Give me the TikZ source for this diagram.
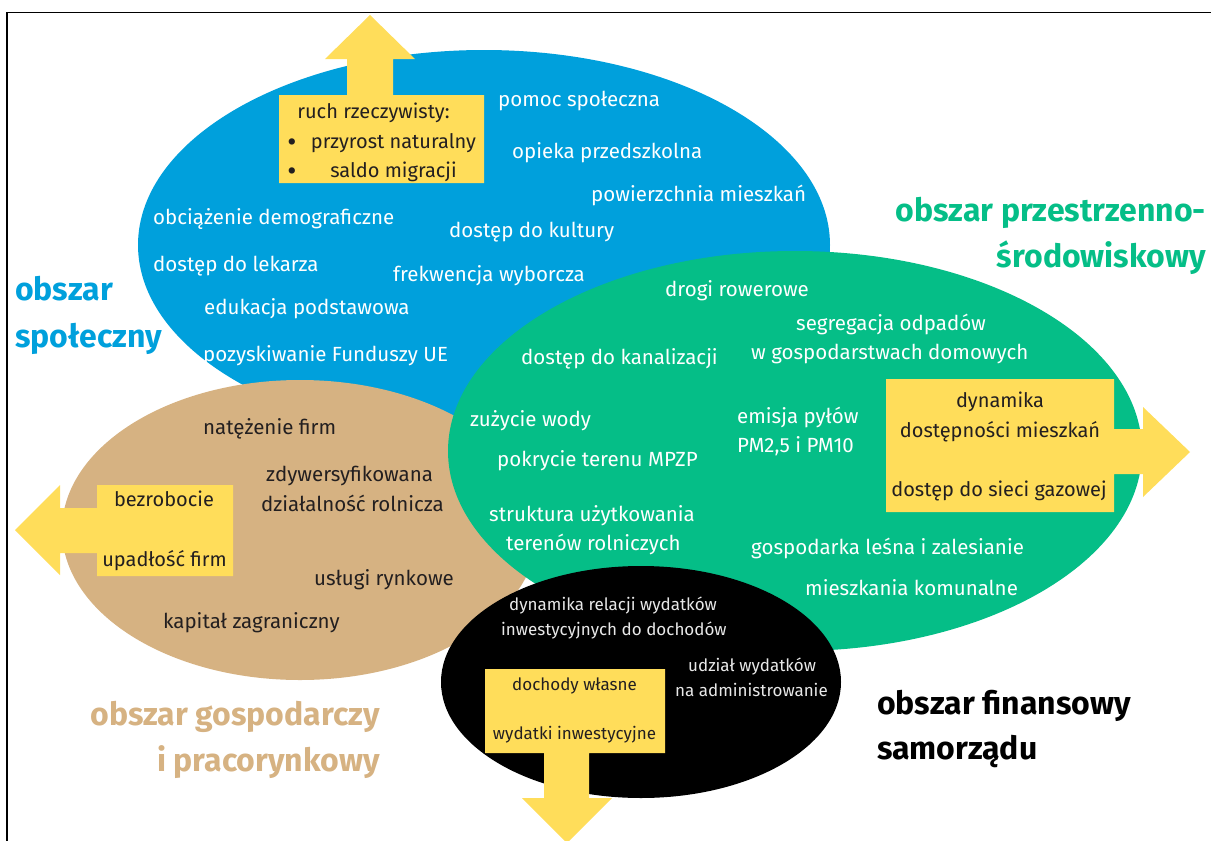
\documentclass[tikz,border=0pt]{standalone}
\usepackage{fontspec}
\setmainfont{Fira Sans}
\usetikzlibrary{shapes.geometric}

\definecolor{spolblue}{RGB}{0,160,220}
\definecolor{srodgreen}{RGB}{5,190,135}
\definecolor{gospbrown}{RGB}{214,178,130}
\definecolor{arrowyellow}{RGB}{255,221,90}
\definecolor{darktext}{RGB}{35,31,32}
\definecolor{lightgray}{RGB}{232,232,232}

\tikzset{
  area/.style={ellipse, inner sep=0pt, draw=none},
  wskaznik/.style={inner sep=0pt, text height=16pt, text depth=3pt,
    font=\fontsize{20.5}{24}\selectfont},
  boxwskaznik/.style={inner sep=0pt, text height=15.5pt, text depth=3pt,
    font=\fontsize{20}{24}\selectfont, text=darktext},
  finwskaznik/.style={inner sep=0pt, text height=13pt, text depth=2.7pt,
    font=\fontsize{17}{20}\selectfont},
  obszar/.style={inner sep=0pt, text height=24pt, text depth=6pt,
    font=\fontsize{32}{36}\selectfont\bfseries}
}

\begin{document}
\begin{tikzpicture}[x=1pt, y=-1pt]
  \useasboundingbox (0,0) rectangle (1211,841);
  \draw[line width=1.5pt] (7,841) -- (7,12.5) -- (1211,12.5);

  \begin{scope}[every node/.style={area}]
    \node[fill=spolblue, minimum width=692pt, minimum height=390pt] (spoleczny) at (484,245) {};
    \node[fill=gospbrown, minimum width=476pt, minimum height=300pt] (gospodarczy) at (300,530) {};
    \node[fill=srodgreen, minimum width=694pt, minimum height=400pt] (srodowiskowy) at (795,451) {};
    \node[fill=black, minimum width=400pt, minimum height=232pt] (finansowy) at (641,682) {};
  \end{scope}

  \begin{scope}[fill=arrowyellow]
    \fill (279,95) -- (347,95) -- (347,59) -- (325,59) -- (370,15) -- (415,59)
      -- (393,59) -- (393,95) -- (484,95) -- (484,183) -- (279,183) -- cycle;
    \fill (233,485) -- (97,485) -- (97,508) -- (60,508) -- (60,485) -- (15,530)
      -- (60,575) -- (60,553) -- (97,553) -- (97,576) -- (233,576) -- cycle;
    \fill (886,379) -- (1114,379) -- (1114,429) -- (1143,429) -- (1143,407) -- (1190,452)
      -- (1143,497) -- (1143,474) -- (1114,474) -- (1114,512) -- (886,512) -- cycle;
    \fill (485,669) -- (665,669) -- (665,753) -- (589,753) -- (589,798) -- (612,798)
      -- (567,843) -- (522,798) -- (544,798) -- (544,753) -- (485,753) -- cycle;
  \end{scope}

  \begin{scope}[every node/.style={wskaznik, text=white, anchor=west}]
    \node (pomoc)    at (498,100) {pomoc społeczna};
    \node (opieka)   at (512,152) {opieka przedszkolna};
    \node (powierz)  at (591,195) {powierzchnia mieszkań};
    \node (obciaz)   at (153,218) {obciążenie demograficzne};
    \node (kultura)  at (449,231) {dostęp do kultury};
    \node (lekarz)   at (153,265) {dostęp do lekarza};
    \node (frekw)    at (393,275) {frekwencja wyborcza};
    \node (eduk)     at (204,308) {edukacja podstawowa};
    \node (fundusze) at (203,355) {pozyskiwanie Funduszy UE};

    \node (drogi)    at (665,290) {drogi rowerowe};
    \node (segreg)   at (796,324) {segregacja odpadów};
    \node (gospdom)  at (751,353) {w gospodarstwach domowych};
    \node (kanal)    at (521,358) {dostęp do kanalizacji};
    \node (woda)     at (470,420) {zużycie wody};
    \node (emisja)   at (737,417) {emisja pyłów};
    \node (pm)       at (737,446) {PM2,5 i PM10};
    \node (mpzp)     at (497,460) {pokrycie terenu MPZP};
    \node (strukt)   at (489,515) {struktura użytkowania};
    \node (rolne)    at (506,544) {terenów rolniczych};
    \node (lesna)    at (751,548) {gospodarka leśna i zalesianie};
    \node (komun)    at (805,589) {mieszkania komunalne};
  \end{scope}

  \begin{scope}[every node/.style={wskaznik, text=darktext, anchor=west}]
    \node (natez)    at (203,428) {natężenie firm};
    \node (zdyw)     at (266,475) {zdywersyfikowana};
    \node (dzial)    at (261,505) {działalność rolnicza};
    \node (uslugi)   at (314,579) {usługi rynkowe};
    \node (kapital)  at (163,622) {kapitał zagraniczny};
  \end{scope}

  \begin{scope}[every node/.style={boxwskaznik}]
    \node (ruch)     at (373.5,112) {ruch rzeczywisty:};
    \node[font=\fontsize{28}{28}\selectfont] (bul1) at (292,145) {•};
    \node (przyrost) at (393.5,142) {przyrost naturalny};
    \node[font=\fontsize{28}{28}\selectfont] (bul2) at (292,174) {•};
    \node (saldo)    at (393.5,171) {saldo migracji};
    \node (bezrob)   at (164,500) {bezrobocie};
    \node (upadl)    at (164.5,560) {upadłość firm};
    \node (dynam)    at (1000,401) {dynamika};
    \node (dostepn)  at (1000,431) {dostępności mieszkań};
    \node (gaz)      at (999,490) {dostęp do sieci gazowej};
  \end{scope}

  \begin{scope}[every node/.style={finwskaznik}]
    \node[text=lightgray, anchor=west] (relacji) at (509,605) {dynamika relacji wydatków};
    \node[text=lightgray, anchor=west] (inwest)  at (501,630) {inwestycyjnych do dochodów};
    \node[text=lightgray, anchor=west] (udzial)  at (688,666) {udział wydatków};
    \node[text=lightgray, anchor=west] (admin)   at (675,691) {na administrowanie};
    \node[text=darktext] (dochody) at (574.5,685) {dochody własne};
    \node[text=darktext] (wydatki) at (574.5,734) {wydatki inwestycyjne};
  \end{scope}

  \begin{scope}[every node/.style={obszar}]
    \node[text=spolblue, anchor=west] (t1a) at (15,291) {obszar};
    \node[text=spolblue, anchor=west] (t1b) at (15,338) {społeczny};
    \node[text=srodgreen, anchor=east] (t2a) at (1206,212) {obszar przestrzenno-};
    \node[text=srodgreen, anchor=east] (t2b) at (1206,258) {środowiskowy};
    \node[text=gospbrown, anchor=east] (t3a) at (380,716) {obszar gospodarczy};
    \node[text=gospbrown, anchor=east] (t3b) at (380,762) {i pracorynkowy};
    \node[text=black, anchor=west] (t4a) at (877,705) {obszar finansowy};
    \node[text=black, anchor=west] (t4b) at (877,750) {samorządu};
  \end{scope}

\end{tikzpicture}
\end{document}
